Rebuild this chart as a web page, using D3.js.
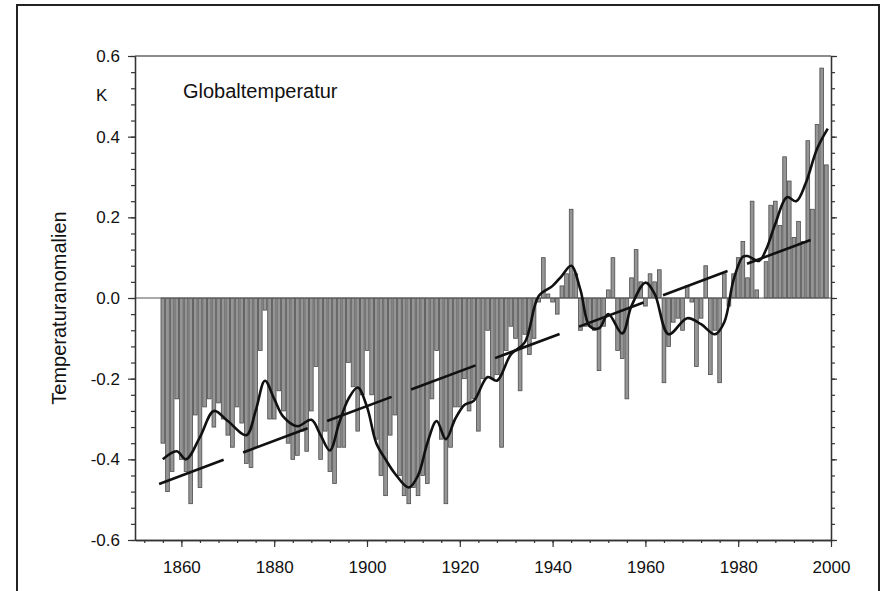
<!DOCTYPE html>
<html>
<head>
<meta charset="utf-8">
<script src="https://cdn.jsdelivr.net/npm/d3@7"></script>
<style>
  body { margin: 0; background: #fff; }
  text { font-family: "Liberation Sans", Arial, sans-serif; fill: #111; }
</style>
</head>
<body>
<svg id="chart" width="883" height="591"></svg>
<script>
// annual anomalies
const years = d3.range(1856, 2000)
const anomalies = [
  -0.36, -0.48, -0.43, -0.25, -0.40, -0.43, -0.51, -0.29, -0.47, -0.27,   // 1856-1865
  -0.25, -0.32, -0.26, -0.30, -0.34, -0.37, -0.27, -0.31, -0.41, -0.42,   // 1866-1875
  -0.37, -0.13, -0.03, -0.30, -0.30, -0.23, -0.28, -0.36, -0.40, -0.39,   // 1876-1885
  -0.33, -0.38, -0.28, -0.17, -0.40, -0.33, -0.43, -0.46, -0.37, -0.37,   // 1886-1895
  -0.16, -0.22, -0.33, -0.24, -0.13, -0.24, -0.35, -0.44, -0.49, -0.34,   // 1896-1905
  -0.29, -0.44, -0.49, -0.51, -0.47, -0.49, -0.44, -0.46, -0.25, -0.13,   // 1906-1915
  -0.35, -0.51, -0.37, -0.27, -0.27, -0.20, -0.28, -0.25, -0.33, -0.20,   // 1916-1925
  -0.08, -0.20, -0.19, -0.37, -0.13, -0.07, -0.10, -0.23, -0.09, -0.14,   // 1926-1935
  -0.10, -0.01, 0.10, 0.01, -0.01, -0.04, 0.03, 0.06, 0.22, 0.06,         // 1936-1945
  -0.08, -0.07, -0.07, -0.08, -0.18, -0.07, 0.02, 0.10, -0.13, -0.15,     // 1946-1955
  -0.25, 0.05, 0.12, 0.04, -0.02, 0.06, 0.04, 0.07, -0.21, -0.12,         // 1956-1965
  -0.06, -0.05, -0.08, 0.03, -0.01, -0.17, -0.05, 0.08, -0.19, -0.08,     // 1966-1975
  -0.21, 0.06, -0.02, 0.06, 0.10, 0.14, 0.05, 0.24, 0.02, 0.00,           // 1976-1985
  0.09, 0.23, 0.24, 0.18, 0.35, 0.29, 0.15, 0.19, 0.14, 0.39,             // 1986-1995
  0.22, 0.43, 0.57, 0.33                                                  // 1996-1999
]

// smoothed curve, points
const smoothYears = [1856, 1859, 1861, 1864, 1867, 1870, 1874, 1876, 1878, 1880,
  1882, 1885, 1888, 1890, 1892, 1894, 1896, 1898, 1900, 1902, 1904, 1906, 1909, 1911, 1913,
  1915, 1917, 1919, 1921, 1923, 1926, 1928, 1931, 1934, 1937, 1940, 1942, 1944, 1946, 1948,
  1950, 1952, 1955, 1957, 1960, 1962, 1965, 1969, 1972, 1975, 1977, 1979, 1981,
  1982, 1984.5, 1986, 1988, 1990.5, 1992.5, 1994.5, 1997, 1999.3]
const smoothValues = [-0.40, -0.38, -0.40, -0.345, -0.28, -0.305, -0.34, -0.28, -0.205, -0.25,
  -0.295, -0.318, -0.302, -0.34, -0.378, -0.31, -0.25, -0.222, -0.27, -0.36, -0.40, -0.435, -0.47, -0.44, -0.36,
  -0.305, -0.35, -0.30, -0.265, -0.255, -0.196, -0.205, -0.14, -0.11, 0.005, 0.03, 0.055, 0.08, 0.02, -0.07,
  -0.075, -0.04, -0.088, -0.02, 0.038, 0.01, -0.09, -0.05, -0.065, -0.09, -0.06, 0.045, 0.102,
  0.104, 0.092, 0.12, 0.184, 0.25, 0.24, 0.283, 0.37, 0.42]

// linear trend (drawn dashed)
const trendYears = [1855.2, 1995.6]
const trendValues = [-0.461, 0.144]
const dashYears = 13.9, gapYears = 4.2

const xTicksMajor = [1860, 1880, 1900, 1920, 1940, 1960, 1980, 2000]
const yTicksMajor = [-0.6, -0.4, -0.2, 0.0, 0.2, 0.4, 0.6]

const svg = d3.select('#chart')
const plotLeft = 135, plotRight = 831, plotTop = 56, plotBottom = 540

const x = d3.scaleLinear().domain([1850, 2000]).range([plotLeft, plotRight])
const y = d3.scaleLinear().domain([-0.6, 0.6]).range([plotBottom, plotTop])

// outer frame
svg.append('rect').attr('x', 17).attr('y', 5).attr('width', 862).attr('height', 620)
  .attr('fill', 'none').attr('stroke', '#222').attr('stroke-width', 2)

// bars
const barW = 3.7
svg.append('g').selectAll('rect').data(anomalies).enter().append('rect')
  .attr('x', (d, i) => x(years[i]) - barW / 2)
  .attr('y', d => y(Math.max(0, d)))
  .attr('width', barW)
  .attr('height', d => Math.abs(y(d) - y(0)))
  .attr('fill', '#959595')
  .attr('stroke', '#4d4d4d')
  .attr('stroke-width', 0.8)

// zero line and top frame line
svg.append('line').attr('x1', plotLeft).attr('x2', plotRight).attr('y1', y(0)).attr('y2', y(0))
  .attr('stroke', '#555').attr('stroke-width', 1)
svg.append('line').attr('x1', plotLeft).attr('x2', plotRight).attr('y1', plotTop).attr('y2', plotTop)
  .attr('stroke', '#666').attr('stroke-width', 1.5)

// axes
const minorX = d3.range(1852, 2001, 4)
const minorY = d3.range(0, 31).map(i => Math.round((-0.6 + i * 0.04) * 100) / 100)

const styleAxis = g => {
  g.select('.domain').attr('stroke', '#333').attr('stroke-width', 1.3)
  g.selectAll('line').attr('stroke', '#333').attr('stroke-width', 1.2)
}

svg.append('g').attr('transform', `translate(0,${plotBottom})`)
  .call(d3.axisBottom(x).tickValues(minorX).tickSize(3).tickSizeOuter(0).tickFormat(''))
  .call(styleAxis)
svg.append('g').attr('transform', `translate(0,${plotBottom})`)
  .call(d3.axisBottom(x).tickValues(xTicksMajor).tickSize(7).tickSizeOuter(0).tickFormat(d3.format('d')).tickPadding(14))
  .call(styleAxis)
  .call(g => g.selectAll('text').attr('font-size', 17).attr('fill', '#111'))

svg.append('g').attr('transform', `translate(${plotLeft},0)`)
  .call(d3.axisLeft(y).tickValues(minorY).tickSize(4).tickSizeOuter(0).tickFormat(''))
  .call(styleAxis)
svg.append('g').attr('transform', `translate(${plotLeft},0)`)
  .call(d3.axisLeft(y).tickValues(yTicksMajor).tickSize(7).tickSizeOuter(0).tickFormat(v => v.toFixed(1)).tickPadding(8))
  .call(styleAxis)
  .call(g => g.selectAll('text').attr('font-size', 17).attr('fill', '#111'))

svg.append('g').attr('transform', `translate(${plotRight},0)`)
  .call(d3.axisRight(y).tickValues(minorY).tickSize(4).tickSizeOuter(0).tickFormat(''))
  .call(styleAxis)
svg.append('g').attr('transform', `translate(${plotRight},0)`)
  .call(d3.axisRight(y).tickValues(yTicksMajor).tickSize(6).tickSizeOuter(0).tickFormat(''))
  .call(styleAxis)

// trend line, dashed: the line ends on a dash
const trendLen = Math.hypot(x(trendYears[1]) - x(trendYears[0]), y(trendValues[1]) - y(trendValues[0]))
const pxPerYear = trendLen / (trendYears[1] - trendYears[0])
svg.append('line')
  .attr('x1', x(trendYears[0])).attr('y1', y(trendValues[0]))
  .attr('x2', x(trendYears[1])).attr('y2', y(trendValues[1]))
  .attr('stroke', '#111').attr('stroke-width', 2.6)
  .attr('stroke-dasharray', `${dashYears * pxPerYear} ${gapYears * pxPerYear}`)

// smoothed curve
const smooth = smoothYears.map((yr, i) => [yr, smoothValues[i]])
svg.append('path').datum(smooth)
  .attr('d', d3.line().x(d => x(d[0])).y(d => y(d[1])).curve(d3.curveCatmullRom.alpha(0.5)))
  .attr('fill', 'none').attr('stroke', '#111').attr('stroke-width', 2.6)

// texts
svg.append('text').attr('x', 96).attr('y', 101).attr('font-size', 17).text('K')
svg.append('text').attr('x', 183).attr('y', 98).attr('font-size', 20).text('Globaltemperatur')
svg.append('text').attr('transform', 'translate(66,308) rotate(-90)')
  .attr('text-anchor', 'middle').attr('font-size', 20).text('Temperaturanomalien')
</script>
</body>
</html>
